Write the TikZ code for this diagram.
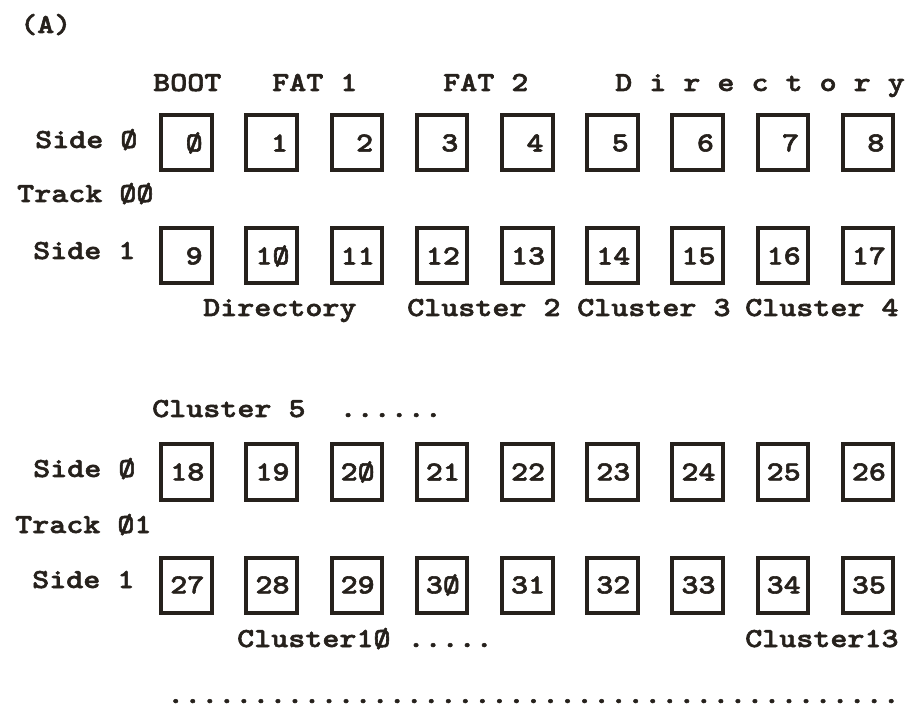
\documentclass[tikz,border=0pt]{standalone}
\usepackage{fontspec}
\newfontfamily\dotmono{lmmonolt10-bold.otf}[FakeStretch=1.18,FakeBold=2]
\definecolor{ink}{RGB}{38,33,28}
\begin{document}
\begin{tikzpicture}[x=1pt,y=-1pt,
  txt/.style={font=\dotmono\fontsize{27.5}{30}\selectfont, inner sep=0pt, anchor=base west, text=ink},
  sbox/.style={draw=ink, line width=4pt, minimum height=55pt, inner xsep=9pt, inner ysep=0pt,
    text width=32.5pt, align=right, font=\dotmono\fontsize{27.5}{30}\selectfont, text=ink}]
\useasboundingbox (0,0) rectangle (908,708);
\fill[white] (0,0) rectangle (908,708);
% sector boxes
\foreach \n [count=\i from 0] in {Ø,1,2,3,4,5,6,7,8}
  \node[sbox] (s\i) at (186.5+85.2*\i,143) {\n};
\foreach \n [count=\i from 0] in {9,1Ø,11,12,13,14,15,16,17}
  \node[sbox] (t\i) at (186.5+85.2*\i,256) {\n};
\foreach \n [count=\i from 0] in {18,19,2Ø,21,22,23,24,25,26}
  \node[sbox] (u\i) at (186.5+85.2*\i,472) {\n};
\foreach \n [count=\i from 0] in {27,28,29,3Ø,31,32,33,34,35}
  \node[sbox] (v\i) at (186.5+85.2*\i,585) {\n};
% labels
\node[txt] (lblA) at (20,33) {(A)};
\node[txt] (boot) at (153,91) {BOOT};
\node[txt] (fat1) at (272,91) {FAT 1};
\node[txt] (fat2) at (443,91) {FAT 2};
\node[txt] (dir0) at (615,91) {D i r e c t o r y};
\node[txt] (side00) at (35,148) {Side Ø};
\node[txt] (trk00) at (17,202) {Track ØØ};
\node[txt] (side01) at (33,259) {Side 1};
\node[txt] (dir1) at (203,316) {Directory};
\node[txt] (cl2) at (407,316) {Cluster 2};
\node[txt] (cl3) at (577,316) {Cluster 3};
\node[txt] (cl4) at (745,316) {Cluster 4};
\node[txt] (cl5) at (152,417) {Cluster 5\ \ ......};
\node[txt] (side10) at (33,477) {Side Ø};
\node[txt] (trk01) at (15,533) {Track Ø1};
\node[txt] (side11) at (32,588) {Side 1};
\node[txt] (cl10) at (237,647) {Cluster1Ø .....};
\node[txt] (cl13) at (745,647) {Cluster13};
\node[txt] (dots) at (167,703) {...........................................};
\end{tikzpicture}
\end{document}
